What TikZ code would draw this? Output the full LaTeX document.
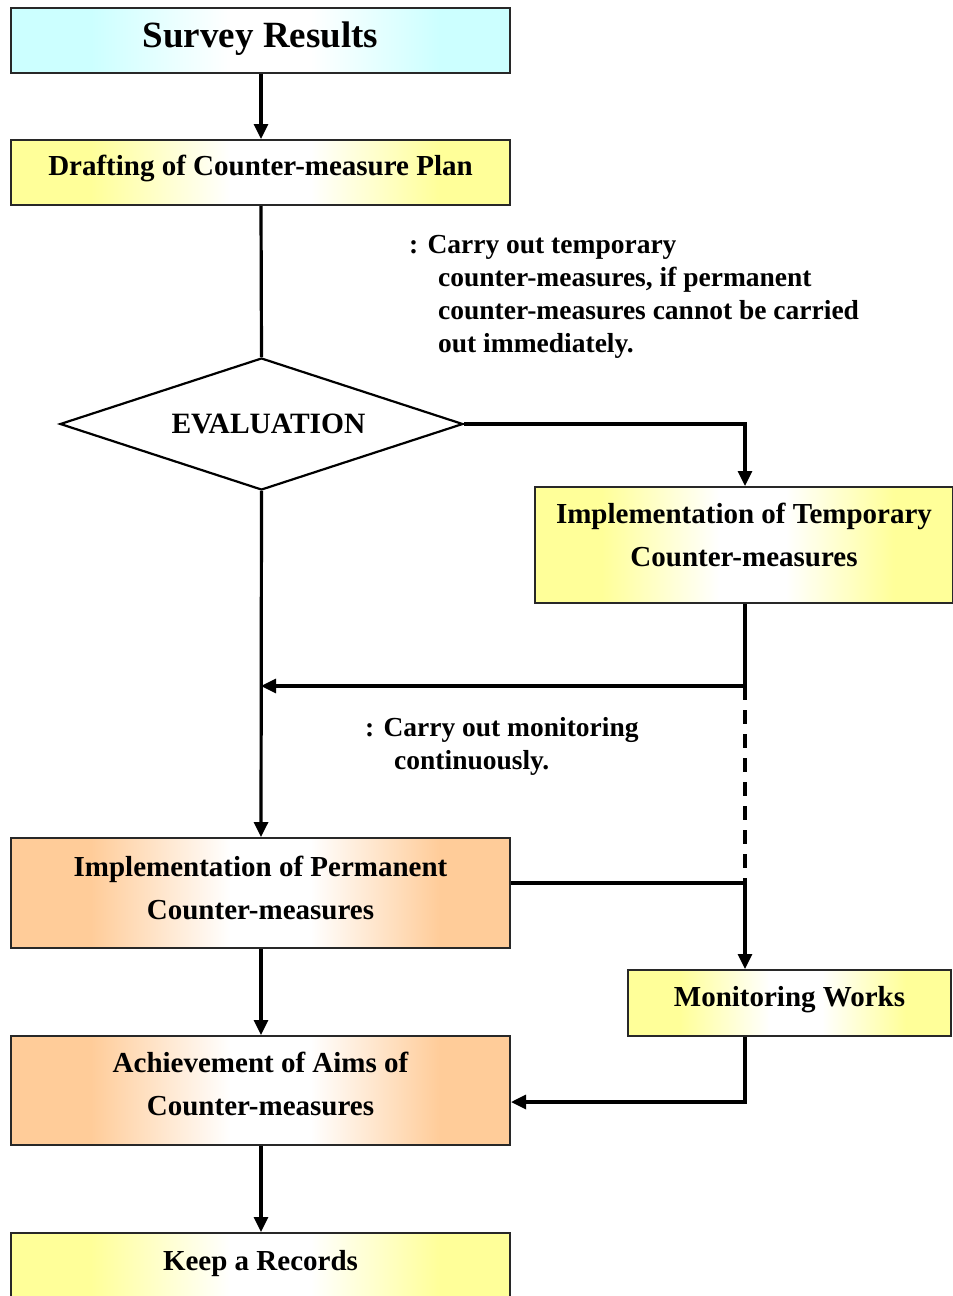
\documentclass[tikz,border=0pt]{standalone}
\usepackage{fontspec}
\setmainfont{Liberation Serif}
\usetikzlibrary{arrows.meta,shapes.geometric}

\definecolor{cyanfill}{RGB}{204,255,255}
\definecolor{yelfill}{RGB}{255,255,153}
\definecolor{orafill}{RGB}{255,204,153}
\definecolor{edge}{RGB}{40,40,40}

% colour at both sides, fading to white in the middle
\pgfdeclarehorizontalshading{cyanband}{100bp}{color(0bp)=(cyanfill); color(25bp)=(cyanfill); color(33bp)=(cyanfill); color(47bp)=(white); color(55bp)=(white); color(68bp)=(cyanfill); color(75bp)=(cyanfill); color(100bp)=(cyanfill)}
\pgfdeclarehorizontalshading{yelband}{100bp}{color(0bp)=(yelfill); color(25bp)=(yelfill); color(33bp)=(yelfill); color(47bp)=(white); color(55bp)=(white); color(68bp)=(yelfill); color(75bp)=(yelfill); color(100bp)=(yelfill)}
\pgfdeclarehorizontalshading{oraband}{100bp}{color(0bp)=(orafill); color(25bp)=(orafill); color(33bp)=(orafill); color(47bp)=(white); color(55bp)=(white); color(68bp)=(orafill); color(75bp)=(orafill); color(100bp)=(orafill)}

% text lifted by #1 from the box centre, taking no room of its own
\newcommand{\lift}[2]{\raisebox{#1}[0pt][0pt]{#2}}

\tikzset{
  box/.style={draw=edge, line width=2pt, rectangle, inner sep=0pt, align=center,
    font=\bfseries\fontsize{29}{43}\selectfont},
  cyanbox/.style={box, shading=cyanband},
  yelbox/.style={box, shading=yelband},
  orabox/.style={box, shading=oraband},
  flow/.style={line width=3.2pt, -{Triangle[length=15pt,width=14pt]}},
  wire/.style={line width=3.2pt},
  dashwire/.style={line width=3.2pt, dash pattern=on 14pt off 10pt},
  note/.style={font=\bfseries\fontsize{27.5}{33}\selectfont, align=left, anchor=north west, inner sep=0pt}
}

\begin{document}
\begin{tikzpicture}[x=1pt,y=-1pt]
\useasboundingbox (0,0) rectangle (953,1296);
\begin{scope}
\clip (0,0) rectangle (953,1296);

\node[cyanbox, minimum width=499pt, minimum height=65pt, font=\bfseries\fontsize{37}{40}\selectfont]
  (survey) at (260.5,40.5) {\lift{-6.5pt}{Survey Results}};
\node[yelbox, minimum width=499pt, minimum height=65pt] (draft) at (260.5,172.5) {\lift{-3pt}{Drafting of Counter-measure Plan}};

\node[draw=black, line width=2.2pt, diamond, aspect=3.05, minimum width=403pt, minimum height=132pt, inner sep=0pt,
  font=\bfseries\fontsize{29.5}{30}\selectfont] (eval) at (261.5,424) {\hspace{14pt}\raisebox{-3pt}{EVALUATION}};

\node[yelbox, minimum width=418pt, minimum height=116pt] (temp) at (744,545)
  {\lift{2.5pt}{\begin{tabular}{c}Implementation of Temporary\\Counter-measures\end{tabular}}};

\node[orabox, minimum width=499pt, minimum height=110pt] (perm) at (260.5,893)
  {\lift{-2.5pt}{\begin{tabular}{c}Implementation of Permanent\\Counter-measures\end{tabular}}};

\node[yelbox, minimum width=323pt, minimum height=66pt] (mon) at (789.5,1003) {\lift{-3.5pt}{Monitoring Works}};

\node[orabox, minimum width=499pt, minimum height=109pt] (aim) at (260.5,1090.5)
  {\lift{-1.5pt}{\begin{tabular}{c}Achievement of Aims of\\Counter-measures\end{tabular}}};

\node[yelbox, minimum width=499pt, minimum height=80pt, anchor=north] (keep) at (260.5,1232) {\lift{2.5pt}{Keep a Records}};

% connector bends
\coordinate (c1) at (745,424);
\coordinate (c2) at (745,686);
\coordinate (c3) at (261,686);
\coordinate (c4) at (745,883);
\coordinate (c5) at (745,1102);

% connectors
\draw[flow] (survey.south -| 261,0) -- (draft.north -| 261,0);
\draw[wire] (draft.south -| 261,0) -- (eval.north);
\draw[flow] (eval.south) -- (perm.north -| 261,0);
\draw[flow] (eval.east) -- (c1) -- (temp.north -| c1);
\draw[wire] (temp.south -| c2) -- (c2);
\draw[flow] (c2) -- (c3);
\draw[dashwire] (c2) -- (c4);
\draw[flow] (perm.east |- c4) -- (c4) -- (mon.north -| c4);
\draw[flow] (perm.south -| 261,0) -- (aim.north -| 261,0);
\draw[flow] (mon.south -| c5) -- (c5) -- (aim.east |- c5);
\draw[flow] (aim.south -| 261,0) -- (keep.north -| 261,0);

% remarks
\node[note] (note1) at (409,235) {: Carry out temporary\\\hspace{29pt}counter-measures, if permanent\\\hspace{29pt}counter-measures cannot be carried\\\hspace{29pt}out immediately.};
\node[note] (note2) at (365,717) {: Carry out monitoring\\\hspace{29pt}continuously.};
\end{scope}
\end{tikzpicture}
\end{document}
